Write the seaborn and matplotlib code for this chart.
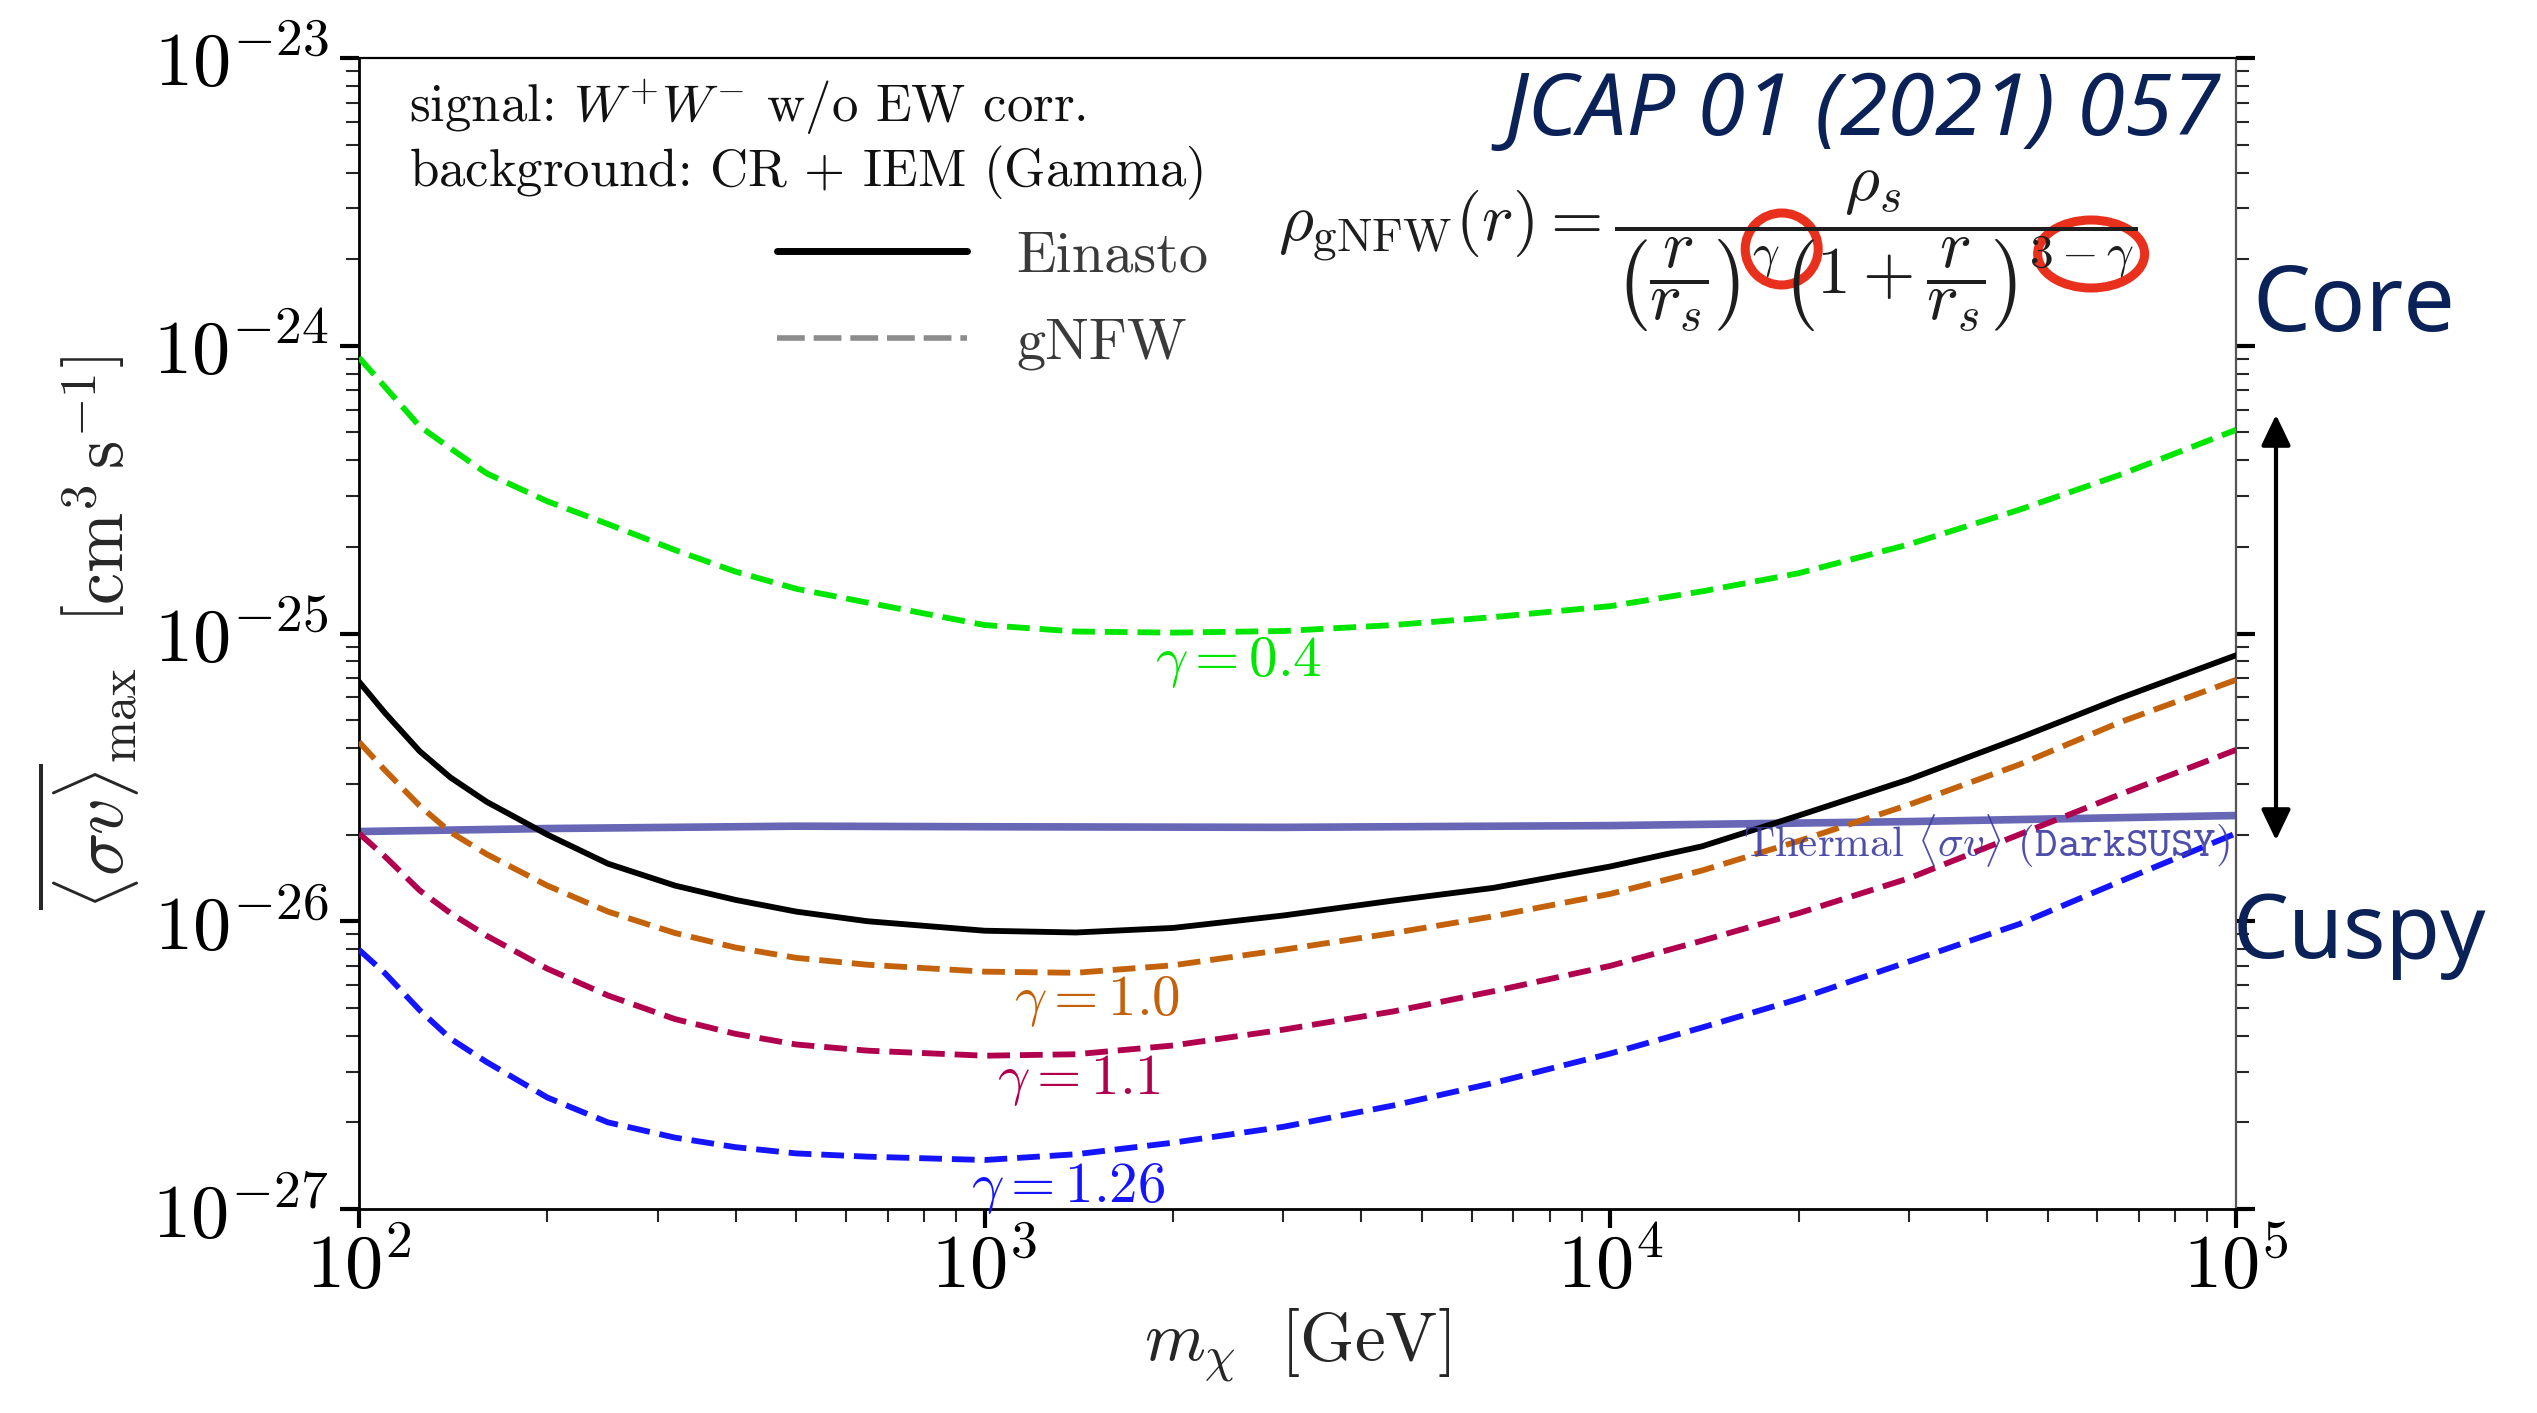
import matplotlib
matplotlib.use("Agg")
import matplotlib.pyplot as plt
import seaborn as sns
from matplotlib.lines import Line2D
from matplotlib.patches import Ellipse, FancyArrowPatch
from matplotlib.ticker import LogLocator, NullFormatter

# ---------------------------------------------------------------- data
mass_gev = [100, 110, 125, 140, 160, 200, 250, 320, 400, 500, 650, 1000,
            1400, 2000, 3000, 4500, 6500, 10000, 14000, 20000, 30000,
            45000, 65000, 100000]

einasto = [6.8e-26, 5.3e-26, 3.9e-26, 3.16e-26, 2.6e-26, 2.0e-26, 1.585e-26,
           1.33e-26, 1.186e-26, 1.08e-26, 1.0e-26, 9.27e-27, 9.14e-27,
           9.48e-27, 1.047e-26, 1.18e-26, 1.306e-26, 1.55e-26, 1.82e-26,
           2.33e-26, 3.11e-26, 4.33e-26, 5.94e-26, 8.4e-26]

gnfw_g040 = [9.1e-25, 7.2e-25, 5.25e-25, 4.4e-25, 3.6e-25, 2.88e-25, 2.4e-25,
             1.95e-25, 1.64e-25, 1.43e-25, 1.28e-25, 1.07e-25, 1.016e-25,
             1.007e-25, 1.02e-25, 1.07e-25, 1.14e-25, 1.245e-25, 1.40e-25,
             1.62e-25, 2.04e-25, 2.69e-25, 3.55e-25, 5.1e-25]

gnfw_g100 = [4.2e-26, 3.35e-26, 2.52e-26, 2.04e-26, 1.71e-26, 1.33e-26,
             1.08e-26, 9.1e-27, 8.1e-27, 7.46e-27, 7.06e-27, 6.68e-27,
             6.62e-27, 7.03e-27, 7.96e-27, 9.1e-27, 1.04e-26, 1.245e-26,
             1.5e-26, 1.9e-26, 2.54e-26, 3.5e-26, 4.9e-26, 6.9e-26]

gnfw_g110 = [2.02e-26, 1.68e-26, 1.28e-26, 1.067e-26, 8.9e-27, 6.84e-27,
             5.52e-27, 4.57e-27, 4.06e-27, 3.73e-27, 3.55e-27, 3.41e-27,
             3.45e-27, 3.7e-27, 4.2e-27, 4.86e-27, 5.71e-27, 7.0e-27,
             8.55e-27, 1.067e-26, 1.41e-26, 2.0e-26, 2.75e-26, 3.94e-26]

gnfw_g126 = [7.96e-27, 6.6e-27, 4.91e-27, 3.91e-27, 3.24e-27, 2.44e-27,
             2.0e-27, 1.77e-27, 1.64e-27, 1.56e-27, 1.52e-27, 1.48e-27,
             1.55e-27, 1.70e-27, 1.93e-27, 2.29e-27, 2.74e-27, 3.47e-27,
             4.27e-27, 5.37e-27, 7.24e-27, 9.77e-27, 1.37e-26, 2.02e-26]

thermal_mass = [100, 200, 500, 1000, 3000, 10000, 30000, 100000]
thermal_sv = [2.05e-26, 2.10e-26, 2.14e-26, 2.13e-26, 2.12e-26, 2.15e-26,
              2.22e-26, 2.33e-26]

gamma_labels = [r"$\gamma = 0.4$", r"$\gamma = 1.0$", r"$\gamma = 1.1$",
                r"$\gamma = 1.26$"]
gamma_label_mass = [2540, 1514, 1416, 1361]
gamma_label_sv = [7.9e-26, 5.25e-27, 2.8e-27, 1.18e-27]

x_ticks = [1e2, 1e3, 1e4, 1e5]
y_ticks = [1e-27, 1e-26, 1e-25, 1e-24, 1e-23]

# ---------------------------------------------------------------- style
sns.set_theme(style="ticks")
plt.rcParams.update({
    "font.family": ["cmr10", "DejaVu Serif"],
    "mathtext.fontset": "cm",
    "axes.formatter.use_mathtext": True,
    "axes.unicode_minus": True,
    "axes.linewidth": 2.0,
    "axes.edgecolor": "black",
})

W, H = 2537, 1413
fig = plt.figure(figsize=(W / 100, H / 100), dpi=100)
fig.patch.set_facecolor("white")
ax = fig.add_axes([359 / W, 1 - 1209 / H, (2236 - 359) / W, (1209 - 58) / H])


def fx(px):
    return px / W


def fy(py):
    return 1 - py / H


c_green = "#00e600"
c_orange = "#c4620c"
c_magenta = "#b0004e"
c_blue = "#1414ff"
c_thermal = "#3c3ca2"
dash = (0, (3.9, 1.7))
dlw = 4.2

sns.lineplot(x=thermal_mass, y=thermal_sv, ax=ax, color=c_thermal, lw=5.5,
             alpha=0.78, estimator=None, sort=False, zorder=2)
sns.lineplot(x=mass_gev, y=gnfw_g040, ax=ax, color=c_green, lw=dlw,
             linestyle=dash, estimator=None, sort=False, zorder=3)
sns.lineplot(x=mass_gev, y=einasto, ax=ax, color="black", lw=4.2,
             estimator=None, sort=False, zorder=4)
sns.lineplot(x=mass_gev, y=gnfw_g100, ax=ax, color=c_orange, lw=dlw,
             linestyle=dash, estimator=None, sort=False, zorder=3)
sns.lineplot(x=mass_gev, y=gnfw_g110, ax=ax, color=c_magenta, lw=dlw,
             linestyle=dash, estimator=None, sort=False, zorder=3)
sns.lineplot(x=mass_gev, y=gnfw_g126, ax=ax, color=c_blue, lw=dlw,
             linestyle=dash, estimator=None, sort=False, zorder=3)

ax.set_xscale("log")
ax.set_yscale("log")
ax.set_xlim(x_ticks[0], x_ticks[-1])
ax.set_ylim(y_ticks[0], y_ticks[-1])

ax.set_xticks(x_ticks)
ax.set_yticks(y_ticks)
ax.xaxis.set_minor_locator(LogLocator(base=10, subs=range(2, 10), numticks=30))
ax.yaxis.set_minor_locator(LogLocator(base=10, subs=range(2, 10), numticks=30))
ax.xaxis.set_minor_formatter(NullFormatter())
ax.yaxis.set_minor_formatter(NullFormatter())

ax.tick_params(axis="both", which="major", direction="out", length=14,
               width=3.0, labelsize=55, colors="black")
ax.tick_params(axis="both", which="minor", direction="out", length=9.5,
               width=1.5)
ax.tick_params(axis="y", which="both", left=True, right=True,
               labelleft=True, labelright=False)
ax.tick_params(axis="x", which="both", bottom=True, top=False)
ax.tick_params(axis="x", which="major", pad=2)
ax.tick_params(axis="y", which="major", pad=8)
ax.spines["right"].set_color("#555555")
ax.spines["right"].set_linewidth(1.6)
ax.spines["top"].set_linewidth(1.6)

ax.set_xlabel(r"$m_\chi\ \ [\mathrm{GeV}]$", fontsize=50)
ax.set_ylabel(r"$\overline{\langle \sigma v \rangle}_{\mathrm{max}}\ \ "
              r"\left[\mathrm{cm}^3\,\mathrm{s}^{-1}\right]$", fontsize=52)
ax.xaxis.set_label_coords(0.5, -0.085)
ax.yaxis.set_label_coords(-0.1156, 0.5)

# curve labels
label_colors = [c_green, c_orange, c_magenta, c_blue]
for txt, m, s, c in zip(gamma_labels, gamma_label_mass, gamma_label_sv,
                        label_colors):
    ax.text(m, s, txt, color=c, fontsize=41, ha="center", va="center",
            zorder=5)

ax.text(0.997, 1.9e-26,
        r"Thermal $\langle \sigma v \rangle$ $\mathtt{(DarkSUSY)}$",
        transform=ax.get_yaxis_transform(), color=c_thermal, fontsize=31,
        ha="right", va="center", alpha=0.9, zorder=5)

# analysis set-up text
fig.text(fx(409), fy(108), r"signal: $W^{+}W^{-}$ w/o EW corr.",
         fontsize=38, ha="left", va="center", color="#111111")
fig.text(fx(409), fy(173), r"background: CR $+$ IEM (Gamma)",
         fontsize=38, ha="left", va="center", color="#111111")

# profile legend
handles = [Line2D([], [], color="black", lw=5),
           Line2D([], [], color="#8c8c8c", lw=4, linestyle=(0, (5, 1.6)))]
leg = fig.legend(handles, ["Einasto", "gNFW"], loc="center left",
                 bbox_to_anchor=(fx(777), fy(300)), frameon=False,
                 fontsize=42, handlelength=3.25, handletextpad=0.85,
                 labelspacing=0.6, borderpad=0, borderaxespad=0)
for t in leg.get_texts():
    t.set_color("#3a3a3a")

# gNFW density profile, sized to span its slot
formula_cy = 251
formula = fig.text(fx(1278), fy(formula_cy),
                   r"$\rho_{\mathrm{gNFW}}(r) = \dfrac{\rho_s}"
                   r"{\left(\dfrac{r}{r_s}\right)^{\gamma}"
                   r"\left(1+\dfrac{r}{r_s}\right)^{3-\gamma}}$",
                   fontsize=40, ha="left", va="center", color="#1e1e1e")
renderer = fig.canvas.get_renderer()
bb = formula.get_window_extent(renderer)
formula.set_fontsize(40 * 845 / bb.width)
bb = formula.get_window_extent(renderer)
x0, fw = bb.x0, bb.width
# red rings around the two exponents
for rx, dy, w, h in [(0.586, -2, 73, 72), (0.946, 3, 107, 68)]:
    cx = x0 + rx * fw
    cy = formula_cy + dy
    fig.add_artist(Ellipse((fx(cx), fy(cy)), w / W, h / H,
                           transform=fig.transFigure, fill=False,
                           edgecolor="#e8301c", lw=6.5))

# reference and profile annotations
navy = "#0a2258"
fig.text(fx(2220), fy(113), "JCAP 01 (2021) 057", fontsize=62,
         family="Noto Sans", style="italic",
         color=navy, ha="right", va="center")
fig.text(fx(2252), fy(307), "Core", fontsize=66, family="Noto Sans",
         color=navy, ha="left", va="center")
fig.text(fx(2233), fy(935), "Cuspy", fontsize=64, family="Noto Sans",
         color=navy, ha="left", va="center")
fig.add_artist(FancyArrowPatch((fx(2276), fy(843)), (fx(2276), fy(412)),
                               transform=fig.transFigure,
                               arrowstyle="<|-|>,head_length=0.47,head_width=0.225",
                               mutation_scale=40, lw=3, color="black"))

fig.savefig("out.png", dpi=100, facecolor="white")
